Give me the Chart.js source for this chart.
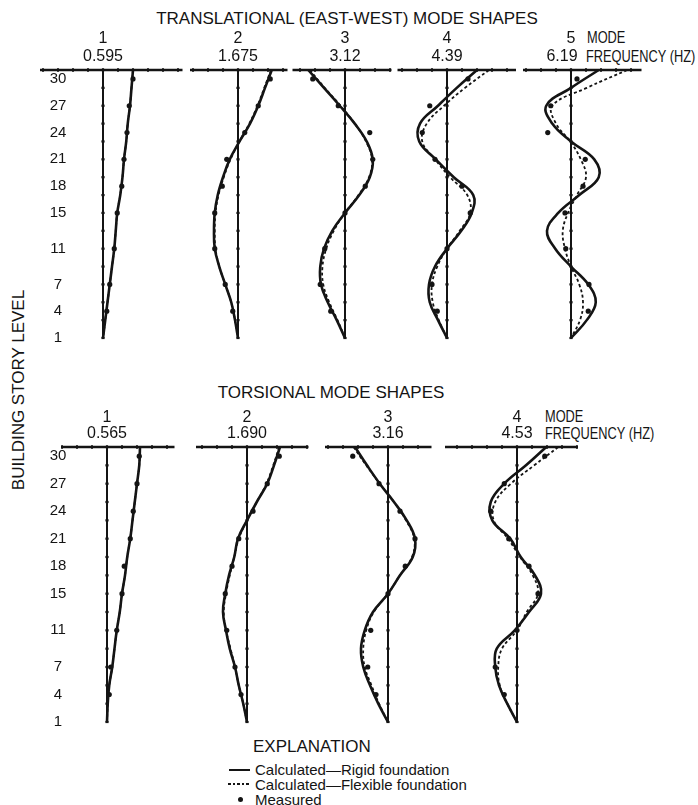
<!DOCTYPE html>
<html>
<head>
<meta charset="utf-8">
<script src="https://cdn.jsdelivr.net/npm/chart.js@4.4.0/dist/chart.umd.min.js"></script>
<style>
  body { margin: 0; background: #fff; }
  #page { position: relative; width: 698px; height: 805px; overflow: hidden;
          font-family: "Liberation Sans", Arial, sans-serif; color: #141414; }
  #page canvas { position: absolute; }
  .txt { position: absolute; white-space: nowrap; line-height: 1; transform: translate(-50%, -50%); }
  .txt.left { transform: translate(0, -50%); }
  .txt.left.narrow { font-size: 16px; transform-origin: left center; transform: translate(0, -50%) scaleX(0.8); }
  .key { position: absolute; }
</style>
</head>
<body>
<div id="page">
  <div class="txt" style="left:347px;top:18px;font-size:17px">TRANSLATIONAL (EAST-WEST) MODE SHAPES</div>
  <div class="txt" style="left:331px;top:392px;font-size:17px">TORSIONAL MODE SHAPES</div>
  <div class="txt left narrow" style="left:587px;top:38px">MODE</div>
  <div class="txt left narrow" style="left:586px;top:57px">FREQUENCY (HZ)</div>
  <div class="txt left narrow" style="left:545px;top:417px">MODE</div>
  <div class="txt left narrow" style="left:545px;top:434px">FREQUENCY (HZ)</div>
  <div class="txt" style="left:18px;top:390px;font-size:17px;transform:translate(-50%,-50%) rotate(-90deg)">BUILDING STORY LEVEL</div>

  <!-- explanation -->
  <div class="txt left" style="left:253px;top:746px;font-size:17px">EXPLANATION</div>
  <div class="key" style="left:229px;top:769px;width:21px;height:2px;background:#141414"></div>
  <div class="txt left" style="left:255px;top:769px;font-size:15px">Calculated—Rigid foundation</div>
  <div class="key" style="left:228px;top:783px;width:23px;height:1.5px;background:repeating-linear-gradient(90deg,#141414 0 2.5px,transparent 2.5px 4.5px)"></div>
  <div class="txt left" style="left:255px;top:784px;font-size:15px">Calculated—Flexible foundation</div>
  <div class="key" style="left:237.5px;top:796.5px;width:5px;height:5px;border-radius:50%;background:#141414"></div>
  <div class="txt left" style="left:255px;top:799px;font-size:15px">Measured</div>
</div>

<script>
// Story levels (31 = roof line) where the calculated shapes are sampled
const levels = [31, 29, 27, 25, 23, 21, 19, 17, 15, 13, 11, 9, 7, 5, 3, 1];
// Instrumented floors (measured points)
const measuredLevels = [30, 27, 24, 21, 18, 15, 11, 7, 4];
// Story labels along the left side
const storyLabels = [30, 27, 24, 21, 18, 15, 11, 7, 4, 1];

// Translational (east-west) modes
const transModes = ["1", "2", "3", "4", "5"];
const transFreqs = ["0.595", "1.675", "3.12", "4.39", "6.19"];
const transRigid = [
  [20, 19, 18, 16.5, 15.5, 14, 13, 11.5, 9.5, 8.5, 7.5, 6, 4.5, 3, 1.5, 0],
  [22.5, 18, 13.5, 8, 1, -5.5, -10, -13.5, -15.5, -16, -15.5, -12.5, -8.5, -4.5, -2, 0],
  [-24.5, -14, -3.5, 6.5, 14.5, 18.5, 16.5, 9.5, 0, -8.5, -14, -16.5, -16, -11.5, -5.5, 0],
  [20, 6.5, -6, -18, -18.5, -7.5, 4.5, 17.5, 16.5, 9.5, 0, -8, -12, -11.5, -6, 0],
  [18.5, 0, -16.5, -12.5, 0, 15.5, 18.5, 5.5, -8.5, -16, -10.5, 0, 11.5, 16.5, 10.5, 0]
];
const transFlexible = [
  [20, 19, 18, 16.5, 15.5, 14, 13, 11.5, 9.5, 8.5, 7.5, 6, 4.5, 3, 1.5, 0],
  [22, 17.5, 13, 7.5, 1, -5, -9.5, -13, -15, -15.5, -15, -12.5, -8.5, -4.5, -2, 0],
  [-23.5, -13.5, -3, 6.5, 14, 18, 16, 9, 0, -7.5, -12.5, -15, -14.5, -10.5, -5, 0],
  [28, 12, -2, -13.5, -16.5, -8, 2, 13.5, 15.5, 8.5, 0, -6.5, -10, -9.5, -5.5, 0],
  [37.5, 10.5, -12.5, -10, -0.5, 6.5, 10, 4, -2, -5.5, -4, 0, 5.5, 8, 6, 0]
];
const transMeasured = [
  [20, 17.5, 16, 14, 12.5, 9.5, 7.5, 4.5, 2.5],
  [21.5, 13.5, 4.5, -7.5, -10.5, -15.5, -15.5, -8.5, -3.5],
  [-21.5, -4.5, 16.5, 18.5, 13.5, 0, -13.5, -16.5, -9.5],
  [14, -11.5, -16.5, -8, 10, 15.5, 0, -10, -6.5],
  [4, -13.5, -15.5, 9.5, 8, -4, -3.5, 12, 11.5]
];

// Torsional modes
const torsModes = ["1", "2", "3", "4"];
const torsFreqs = ["0.565", "1.690", "3.16", "4.53"];
const torsRigid = [
  [22, 21.5, 20, 18.5, 17, 15.5, 13.5, 12, 10, 8.5, 6.5, 5, 3.5, 1.5, 0.5, 0],
  [22, 18, 13.5, 6.5, 0, -6, -8.5, -12, -14.5, -16, -14, -11.5, -8, -5.5, -2.5, 0],
  [-22, -14, -5.5, 4, 12.5, 18, 16.5, 8, 0, -10, -15.5, -18, -16.5, -12, -6.5, 0],
  [19.5, 6, -8.5, -17.5, -16.5, -4.5, 2.5, 12, 16, 8, -1.5, -13.5, -14.5, -12, -6.5, 0]
];
const torsFlexible = [
  [22, 21.5, 20, 18.5, 17, 15.5, 13.5, 12, 10, 8.5, 6.5, 5, 3.5, 1.5, 0.5, 0],
  [21.5, 17.5, 13, 6.5, 0, -5.5, -8.5, -11.5, -14, -15.5, -14, -11, -8, -5.5, -2.5, 0],
  [-23, -14.5, -5.5, 4, 12, 17.5, 16, 8, 0, -9.5, -14.5, -16.5, -15.5, -11, -6, 0],
  [27.5, 11.5, -4, -14.5, -15.5, -6, 2, 10.5, 14, 6.5, 0, -10, -12.5, -11.5, -6.5, 0]
];
const torsMeasured = [
  [21.5, 20, 17.5, 15.5, 11.5, 10, 6.5, 2.5, 1.5],
  [21.5, 13.5, 4, -5.5, -10, -14.5, -13.5, -8, -4],
  [-23.5, -6, 8, 18, 11.5, 0, -11.5, -13.5, -8],
  [18.5, -8.5, -17.5, -5.5, 8, 14, 0, -14.5, -8.5]
];

// ---- layout ----
const INK = "#141414";
const PX_PER_UNIT = 1.5;
const PAD = 12;
const topRow = { canvasTop: 26, areaTop: 70, areaBottom: 338, canvasBottom: 350, modeY: 38.5, freqY: 57 };
const bottomRow = { canvasTop: 404, areaTop: 447, areaBottom: 722, canvasBottom: 734, modeY: 417.5, freqY: 434 };
const transLayout = [
  { axisX: 103, xMin: -42, xMax: 53 },
  { axisX: 238, xMin: -32, xMax: 33 },
  { axisX: 345, xMin: -35, xMax: 31 },
  { axisX: 447, xMin: -33, xMax: 46 },
  { axisX: 571, xMin: -32, xMax: 47, freqDx: -9 }
];
const torsLayout = [
  { axisX: 107, xMin: -30, xMax: 45 },
  { axisX: 247, xMin: -34, xMax: 41 },
  { axisX: 388, xMin: -42, xMax: 29 },
  { axisX: 517, xMin: -48, xMax: 40 }
];
const STORY_X = 58;

function makePanel(row, lay, mode, freq, rigid, flexible, measured, withStories) {
  let areaLeft = lay.axisX + lay.xMin * PX_PER_UNIT;
  let areaRight = lay.axisX + lay.xMax * PX_PER_UNIT;
  let left = withStories ? 0 : Math.round(areaLeft - PAD);
  let width = Math.round(areaRight + PAD - left);
  let height = row.canvasBottom - row.canvasTop;

  let canvas = document.createElement("canvas");
  canvas.width = width;
  canvas.height = height;
  canvas.style.left = left + "px";
  canvas.style.top = row.canvasTop + "px";
  document.getElementById("page").appendChild(canvas);

  // roof line with tick marks every 10 units
  let roof = [lay.xMin];
  for (let t = Math.ceil(lay.xMin / 10) * 10; t <= lay.xMax; t += 10) roof.push(t);
  roof.push(lay.xMax);

  // mode / frequency / story labels placed with the chart's own scales
  let labels = {
    id: "panelLabels",
    afterDraw(chart) {
      let ctx = chart.ctx;
      let x0 = chart.scales.x.getPixelForValue(0);
      ctx.save();
      ctx.fillStyle = INK;
      ctx.textAlign = "center";
      ctx.textBaseline = "middle";
      ctx.font = '16px "Liberation Sans", Arial, sans-serif';
      ctx.fillText(mode, x0, row.modeY - row.canvasTop);
      ctx.fillText(freq, x0 + (lay.freqDx || 0), row.freqY - row.canvasTop);
      if (withStories) {
        ctx.font = '15px "Liberation Sans", Arial, sans-serif';
        storyLabels.forEach(s => {
          ctx.fillText(String(s), STORY_X - left, chart.scales.y.getPixelForValue(s));
        });
      }
      ctx.restore();
    }
  };

  new Chart(canvas, {
    type: "line",
    data: {
      datasets: [
        {
          label: "Measured",
          data: measuredLevels.map((l, i) => ({ x: measured[i], y: l })),
          showLine: false,
          pointRadius: 2.6,
          pointBackgroundColor: INK,
          pointBorderColor: INK,
          pointBorderWidth: 0,
          order: 0
        },
        {
          label: "Calculated—Rigid foundation",
          data: levels.map((l, i) => ({ x: rigid[i], y: l })),
          borderColor: INK,
          borderWidth: 2.6,
          tension: 0.4,
          pointRadius: 0,
          order: 1
        },
        {
          label: "Calculated—Flexible foundation",
          data: levels.map((l, i) => ({ x: flexible[i], y: l })),
          borderColor: INK,
          borderWidth: 1.8,
          borderDash: [3, 2.5],
          tension: 0.4,
          pointRadius: 0,
          order: 2
        },
        {
          label: "axis",
          data: levels.map(l => ({ x: 0, y: l })),
          borderColor: INK,
          borderWidth: 2,
          pointStyle: "line",
          pointRadius: 1.6,
          pointBorderWidth: 2.2,
          pointBorderColor: INK,
          order: 3
        },
        {
          label: "roof",
          data: roof.map(t => ({ x: t, y: 31 })),
          borderColor: INK,
          borderWidth: 2.4,
          pointStyle: "line",
          pointRotation: 90,
          pointRadius: ctx => (ctx.dataIndex === 0 || ctx.dataIndex === roof.length - 1) ? 0 : 1.8,
          pointBorderWidth: 2,
          pointBorderColor: INK,
          order: 4
        }
      ]
    },
    options: {
      responsive: false,
      animation: false,
      events: [],
      clip: false,
      layout: {
        padding: {
          left: areaLeft - left,
          right: left + width - areaRight,
          top: row.areaTop - row.canvasTop,
          bottom: row.canvasBottom - row.areaBottom
        }
      },
      scales: {
        x: { type: "linear", min: lay.xMin, max: lay.xMax, display: false },
        y: { type: "linear", min: 1, max: 31, display: false }
      },
      plugins: {
        legend: { display: false },
        tooltip: { enabled: false }
      }
    },
    plugins: [labels]
  });
}

transLayout.forEach((lay, i) => {
  makePanel(topRow, lay, transModes[i], transFreqs[i], transRigid[i], transFlexible[i], transMeasured[i], i === 0);
});
torsLayout.forEach((lay, i) => {
  makePanel(bottomRow, lay, torsModes[i], torsFreqs[i], torsRigid[i], torsFlexible[i], torsMeasured[i], i === 0);
});
</script>
</body>
</html>
